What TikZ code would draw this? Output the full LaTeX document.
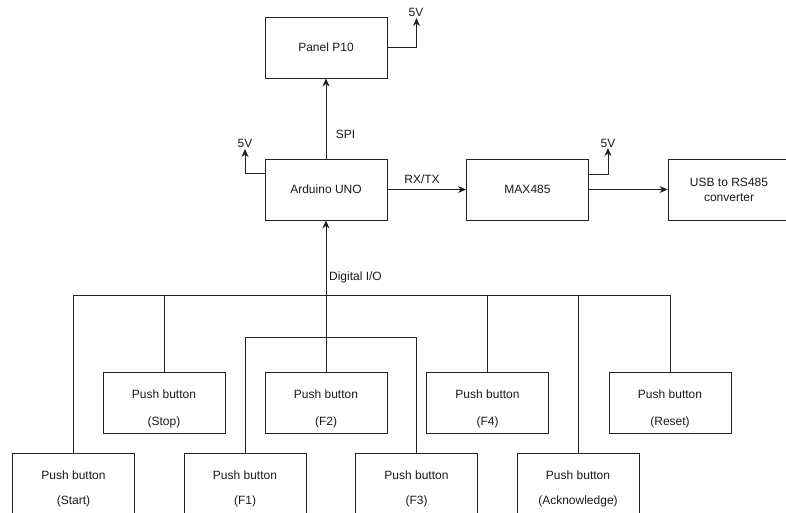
\documentclass[tikz,border=0pt]{standalone}
\usepackage{fontspec}
\setmainfont{Liberation Sans}
\usetikzlibrary{arrows.meta}
\definecolor{ln}{HTML}{222222}
\definecolor{tx}{HTML}{1A1A1A}
\begin{document}
\begin{tikzpicture}[x=1pt,y=-1pt,
  every node/.style={font=\fontsize{12}{15}\selectfont, text=tx},
  box/.style={draw=ln, line width=0.9pt, minimum width=122pt, minimum height=61pt, inner sep=0pt, align=center},
  wire/.style={draw=ln, line width=0.9pt},
  arr/.style={wire, -{Stealth[length=8pt,width=7pt,inset=2.5pt]}},
  lbl/.style={inner sep=0pt}
]
\useasboundingbox (0,0) rectangle (786,513);
\fill[white] (0,0) rectangle (786,513);

% main blocks
\node[box] (panel) at (326,47.5) {Panel P10};
\node[box] (ard) at (326,189.5) {Arduino UNO};
\node[box] (max) at (527.5,189.5) {MAX485};
\node[box] (usb) at (729,189.5) {USB to RS485\\converter};

% push buttons row 1
\node[box] (stop) at (164,402.5) {};
\node[box] (f2) at (326,402.5) {};
\node[box] (f4) at (487.5,402.5) {};
\node[box] (reset) at (670,402.5) {};
% row 2
\node[box] (start) at (73.5,483.5) {};
\node[box] (f1) at (245,483.5) {};
\node[box] (f3) at (416.5,483.5) {};
\node[box] (ack) at (578,483.5) {};

% button texts
\foreach \n/\t in {stop/(Stop), f2/(F2), f4/(F4), reset/(Reset)}{
  \node[lbl, anchor=base] (\n-a) at ([yshift=4.2pt]\n.center) {Push button};
  \node[lbl, anchor=base] (\n-b) at ([yshift=-22.5pt]\n.center) {\t};
}
\foreach \n/\t in {start/(Start), f1/(F1), f3/(F3), ack/(Acknowledge)}{
  \node[lbl, anchor=base] (\n-a) at ([yshift=4.2pt]\n.center) {Push button};
  \node[lbl, anchor=base] (\n-b) at ([yshift=-20.5pt]\n.center) {\t};
}

% 5V supplies
\coordinate (p5) at (416.5,18);
\coordinate (a5) at (245,149);
\coordinate (m5) at (608,148);
\draw[arr] (panel.east) -| (p5);
\node[lbl] (p5l) at (416,12.5) {5V};
\draw[arr] (ard.west |- 0,173) -| (a5);
\node[lbl] (a5l) at (245,143.5) {5V};
\draw[arr] (max.east |- 0,174) -| (m5);
\node[lbl] (m5l) at (608,143.5) {5V};

% signal connections
\draw[arr] (ard.north) -- (panel.south);
\node[lbl] (spi) at (345.5,134.5) {SPI};
\draw[arr] (ard.east) -- (max.west);
\node[lbl] (rxtx) at (422,179.5) {RX/TX};
\draw[arr] (max.east) -- (usb.west);

% digital I/O
\draw[arr] (f2.north) -- (ard.south);
\node[lbl] (dio) at (355.5,277) {Digital I/O};

\coordinate (bus) at (0,295.5);
\coordinate (bus2) at (0,337.5);
\draw[wire] (start.north) -- (start.north |- bus) -| (reset.north);
\draw[wire] (stop.north) -- (stop.north |- bus);
\draw[wire] (f4.north) -- (f4.north |- bus);
\draw[wire] (ack.north) -- (ack.north |- bus);
\draw[wire] (f1.north) -- (f1.north |- bus2) -| (f3.north);
\end{tikzpicture}
\end{document}
